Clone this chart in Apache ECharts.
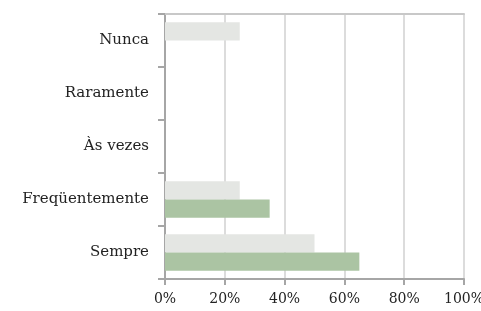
<!DOCTYPE html>
<html>
<head>
<meta charset="utf-8">
<script src="https://cdn.jsdelivr.net/npm/echarts@6/dist/echarts.min.js"></script>
<style>
  html, body { margin: 0; padding: 0; background: #fff; }
  #chart { width: 481px; height: 311px; }
</style>
</head>
<body>
<div id="chart"></div>
<script>
// categorias de baixo para cima (eixo de categoria do ECharts começa embaixo)
var categories = ["Sempre", "Freqüentemente", "Às vezes", "Raramente", "Nunca"];
var seriesGray = [50, 25, 0, 0, 25];
var seriesGreen = [65, 35, 0, 0, 0];
var xTicks = [0, 20, 40, 60, 80, 100];

var chart = echarts.init(document.getElementById("chart"));

var fontFamily = "DejaVu Serif";

var option = {
    animation: false,
    grid: {
        left: 165,
        right: 17,
        top: 14,
        bottom: 32,
        outerBoundsMode: "none",
        containLabel: false
    },
    xAxis: [
        {
            type: "value",
            min: xTicks[0],
            max: xTicks[xTicks.length - 1],
            interval: 20,
            axisLine: { show: true, lineStyle: { color: "#a6a6a6", width: 2 } },
            axisTick: { show: true, length: 6, lineStyle: { color: "#a6a6a6", width: 2 } },
            splitLine: { show: true, lineStyle: { color: "#dcdcdc", width: 2 } },
            axisLabel: {
                margin: 13,
                formatter: "{value}%",
                fontFamily: fontFamily,
                fontSize: 14,
                color: "#222"
            }
        },
        {
            // borda superior da área de plotagem
            type: "value",
            position: "top",
            min: 0,
            max: 100,
            axisLine: { show: true, lineStyle: { color: "#c8c8c8", width: 2 } },
            axisTick: { show: false },
            axisLabel: { show: false },
            splitLine: { show: false }
        }
    ],
    yAxis: {
        type: "category",
        data: categories,
        axisLine: { show: true, lineStyle: { color: "#a6a6a6", width: 2 } },
        axisTick: { show: true, length: 7, lineStyle: { color: "#a6a6a6", width: 2 } },
        axisLabel: {
            margin: 16,
            fontFamily: fontFamily,
            fontSize: 15,
            color: "#222"
        }
    },
    series: [
        {
            name: "cinza",
            type: "bar",
            data: seriesGray,
            barGap: "0%",
            barCategoryGap: "31%",
            itemStyle: { color: "#e4e6e3" }
        },
        {
            name: "verde",
            type: "bar",
            data: seriesGreen,
            barGap: "0%",
            barCategoryGap: "31%",
            itemStyle: { color: "#abc4a3" }
        }
    ]
};

chart.setOption(option);
</script>
</body>
</html>
